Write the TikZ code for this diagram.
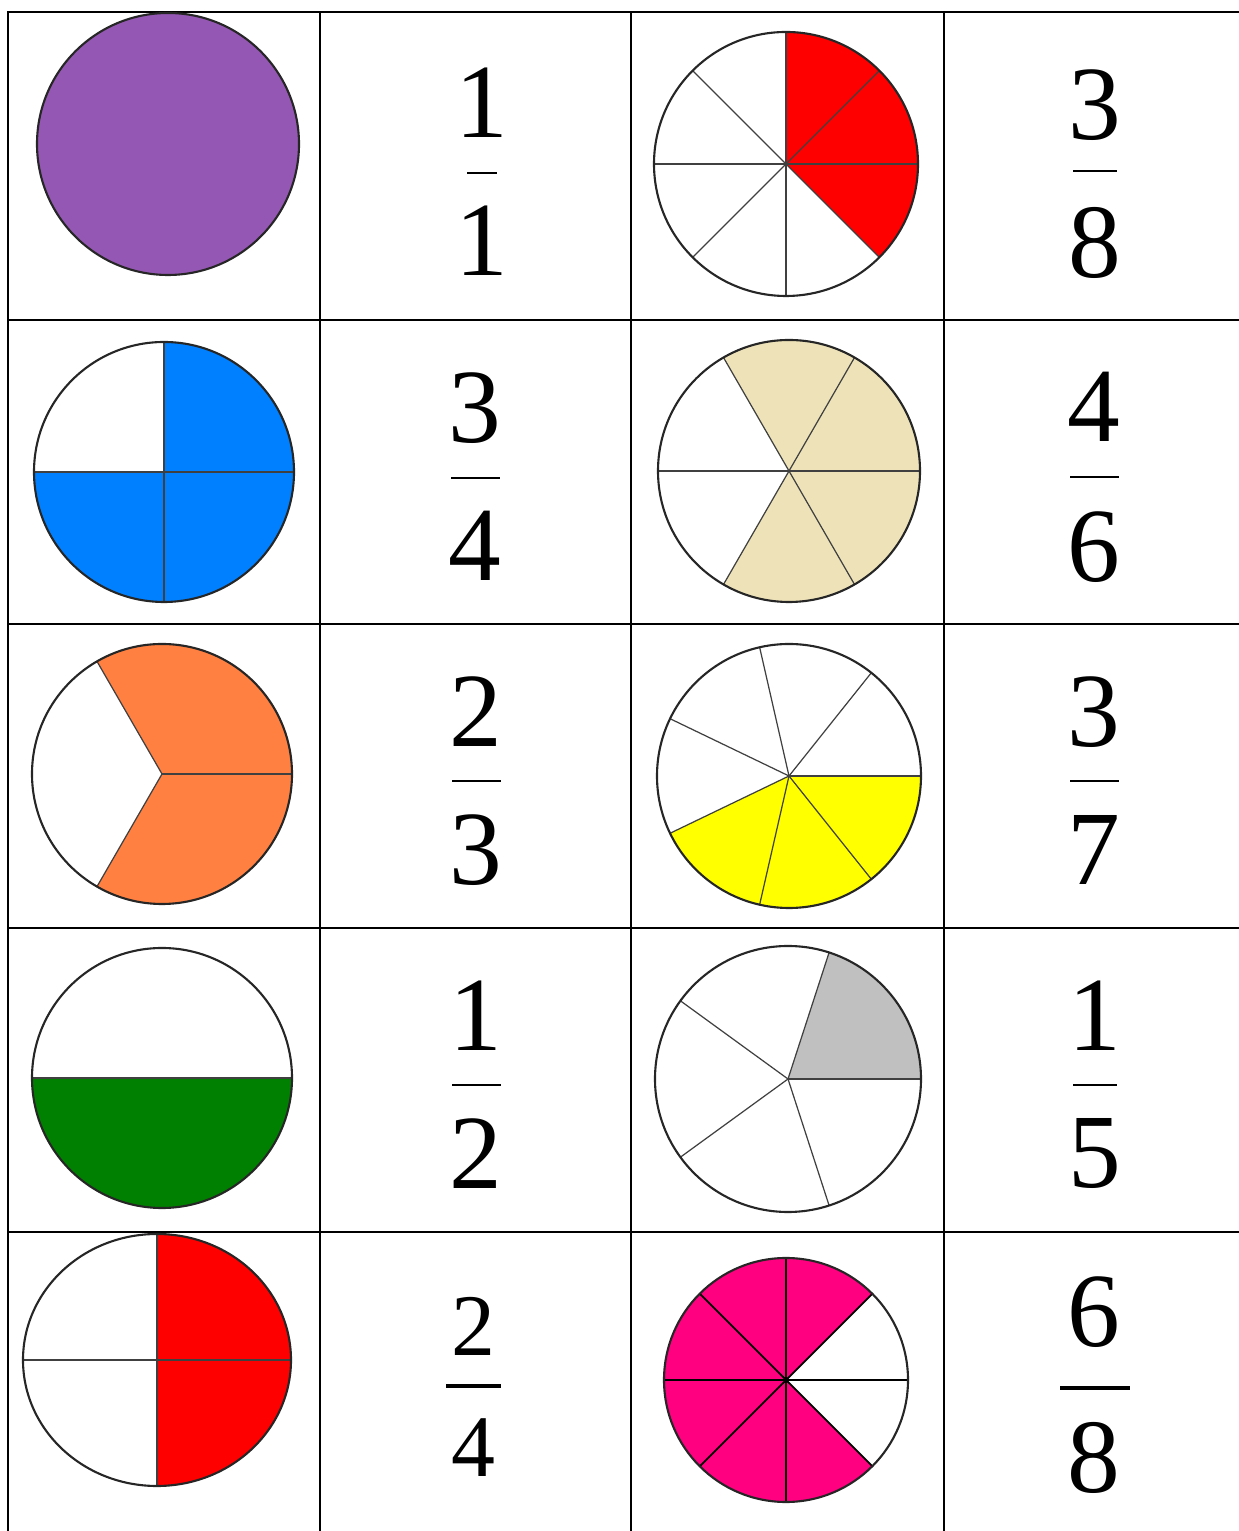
\documentclass[tikz,border=0pt]{standalone}
\usepackage{fontspec}
\setmainfont{Liberation Serif}
\definecolor{ink}{HTML}{000000}
\definecolor{purplefill}{HTML}{9457B3}
\definecolor{redfill}{HTML}{FF0000}
\definecolor{bluefill}{HTML}{0080FF}
\definecolor{tanfill}{HTML}{EEE3B8}
\definecolor{orangefill}{HTML}{FF8040}
\definecolor{yellowfill}{HTML}{FFFF00}
\definecolor{greenfill}{HTML}{008000}
\definecolor{grayfill}{HTML}{C0C0C0}
\definecolor{pinkfill}{HTML}{FF0080}
\tikzset{
  tableline/.style={draw=ink, line width=1.5pt, line cap=rect},
  rim/.style={draw=ink!85, line width=1.2pt},
  spoke/.style={draw=ink!75, line width=0.7pt},
  digit/.style={inner sep=0pt, text=ink, font=\fontsize{60}{62}\selectfont},
  smalldigit/.style={digit, font=\fontsize{50}{52}\selectfont},
  fracbar/.style={fill=ink, inner sep=0pt, minimum height=0.85pt},
}

\begin{document}
\begin{tikzpicture}[x=0.02cm, y=0.02cm]
\useasboundingbox (0,0) rectangle (1238,1531);
% table
\foreach \y in {1519,1211,907,603,299} \draw[tableline] (8,\y) -- (1238,\y);
\foreach \x in {8,320,631,944} \draw[tableline] (\x,1519) -- (\x,0);

% row 1
\coordinate (c11) at (168,1387);
\filldraw[rim, fill=purplefill] (c11) circle[radius=131];
\node[digit] (n12) at (482,1428) {1};
\node[fracbar, minimum width=0.6cm] (b12) at (482,1358) {};
\node[digit] (d12) at (482,1290) {1};
\coordinate (c13) at (786,1367);
\fill[redfill] (c13) -- ++(90:132) arc[start angle=90, end angle=-45, radius=132] -- cycle;
\foreach \a in {0,45,...,315} \draw[spoke] (c13) -- ++(\a:132);
\draw[rim] (c13) circle[radius=132];
\node[digit] (n14) at (1095,1426) {3};
\node[fracbar, minimum width=0.88cm] (b14) at (1095,1360) {};
\node[digit] (d14) at (1095,1288) {8};

% row 2
\coordinate (c21) at (164,1059);
\fill[bluefill] (c21) -- ++(90:130) arc[start angle=90, end angle=-180, radius=130] -- cycle;
\foreach \a in {0,90,180,270} \draw[spoke] (c21) -- ++(\a:130);
\draw[rim] (c21) circle[radius=130];
\node[digit] (n22) at (475,1123) {3};
\node[fracbar, minimum width=0.98cm] (b22) at (475,1053) {};
\node[digit] (d22) at (475,985) {4};
\coordinate (c23) at (789,1060);
\fill[tanfill] (c23) -- ++(120:131) arc[start angle=120, end angle=-120, radius=131] -- cycle;
\foreach \a in {0,60,...,300} \draw[spoke] (c23) -- ++(\a:131);
\draw[rim] (c23) circle[radius=131];
\node[digit] (n24) at (1094,1124) {4};
\node[fracbar, minimum width=0.98cm] (b24) at (1094,1054) {};
\node[digit] (d24) at (1094,984) {6};

% row 3
\coordinate (c31) at (162,757);
\fill[orangefill] (c31) -- ++(120:130) arc[start angle=120, end angle=-120, radius=130] -- cycle;
\foreach \a in {0,120,240} \draw[spoke] (c31) -- ++(\a:130);
\draw[rim] (c31) circle[radius=130];
\node[digit] (n32) at (476,819) {2};
\node[fracbar, minimum width=0.98cm] (b32) at (476,750) {};
\node[digit] (d32) at (476,681) {3};
\coordinate (c33) at (789,755);
\fill[yellowfill] (c33) -- ++(0:132) arc[start angle=0, end angle=-154.29, radius=132] -- cycle;
\foreach \k in {0,...,6} \draw[spoke] (c33) -- ++({\k*360/7}:132);
\draw[rim] (c33) circle[radius=132];
\node[digit] (n34) at (1094,819) {3};
\node[fracbar, minimum width=0.98cm] (b34) at (1094,750) {};
\node[digit] (d34) at (1094,681) {7};

% row 4
\coordinate (c41) at (162,453);
\fill[greenfill] (c41) -- ++(180:130) arc[start angle=180, end angle=360, radius=130] -- cycle;
\draw[spoke] (c41) ++(180:130) -- ++(260,0);
\draw[rim] (c41) circle[radius=130];
\node[digit] (n42) at (476,515) {1};
\node[fracbar, minimum width=0.98cm] (b42) at (476,446) {};
\node[digit] (d42) at (476,377) {2};
\coordinate (c43) at (788,452);
\fill[grayfill] (c43) -- ++(0:133) arc[start angle=0, end angle=72, radius=133] -- cycle;
\foreach \a in {0,72,...,288} \draw[spoke] (c43) -- ++(\a:133);
\draw[rim] (c43) circle[radius=133];
\node[digit] (n44) at (1095,515) {1};
\node[fracbar, minimum width=0.88cm] (b44) at (1095,446) {};
\node[digit] (d44) at (1095,377) {5};

% row 5
\coordinate (c51) at (157,171);
\fill[redfill] (c51) -- ++(0,126) arc[start angle=90, end angle=-90, x radius=134, y radius=126] -- cycle;
\draw[spoke] (c51) ++(-134,0) -- ++(268,0);
\draw[spoke] (c51) ++(0,-126) -- ++(0,252);
\draw[rim] (c51) ellipse[x radius=134, y radius=126];
\node[smalldigit] (n52) at (473,205) {2};
\node[fracbar, minimum width=1.1cm, minimum height=2.3pt] (b52) at (473,145) {};
\node[smalldigit] (d52) at (473,83) {4};
\coordinate (c53) at (786,151);
\fill[pinkfill] (c53) -- ++(45:122) arc[start angle=45, end angle=315, radius=122] -- cycle;
\foreach \a in {0,45,...,315} \draw[spoke, draw=ink, line width=1pt] (c53) -- ++(\a:122);
\draw[rim] (c53) circle[radius=122];
\fill[ink] (c53) circle[radius=3];
\node[digit] (n54) at (1094,219) {6};
\node[fracbar, minimum width=1.4cm, minimum height=2.8pt] (b54) at (1095,143) {};
\node[digit] (d54) at (1094,73) {8};
\end{tikzpicture}
\end{document}
